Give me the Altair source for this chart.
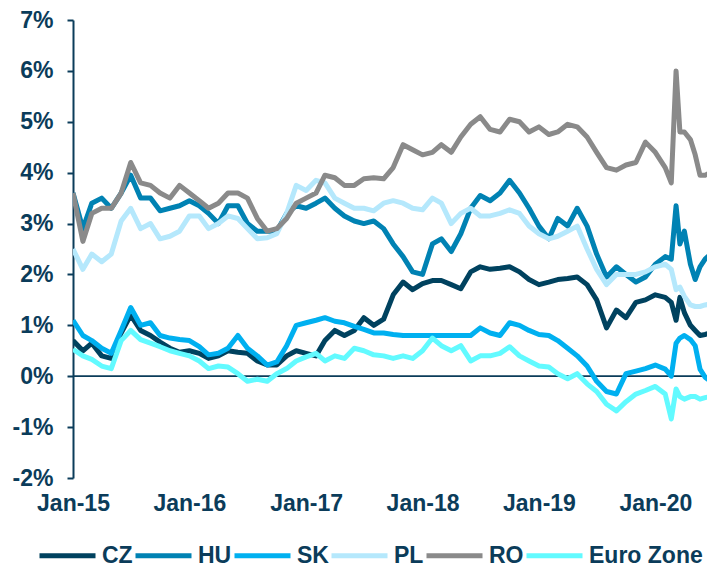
import altair as alt
import pandas as pd

# ---- data (values in %) ----
months = pd.date_range("2015-01-01", "2020-02-01", freq="MS").strftime("%Y-%m-%d").tolist()
extra_dates = ["2020-02-20", "2020-03-06", "2020-03-18", "2020-04-01", "2020-04-20",
               "2020-05-05", "2020-05-20", "2020-06-05", "2020-06-22"]
dates = months + extra_dates

series_names = ["CZ", "HU", "SK", "PL", "RO", "Euro Zone"]
series_colors = ["#00425F", "#0082B3", "#00B0F0", "#B5E8FC", "#8A8A8A", "#62FAFF"]
series_widths = [5, 5, 2.6, 3.2, 3.2, 3.2]

cz = [0.7, 0.5, 0.65, 0.4, 0.35, 0.85, 1.2, 0.9, 0.8, 0.67,
      0.55, 0.47, 0.5, 0.45, 0.35, 0.4, 0.5, 0.47, 0.45, 0.3,
      0.22, 0.22, 0.4, 0.5, 0.45, 0.4, 0.7, 0.9, 0.8, 0.9,
      1.15, 1.0, 1.12, 1.6, 1.85, 1.7, 1.82, 1.88, 1.88, 1.8,
      1.72, 2.05, 2.15, 2.1, 2.12, 2.15, 2.05, 1.9, 1.8, 1.85,
      1.9, 1.92, 1.95, 1.8, 1.5, 0.95, 1.3, 1.15, 1.45, 1.5,
      1.6, 1.55,
      1.45, 1.1, 1.55, 1.25, 1.0, 0.9, 0.8, 0.82, 0.85]
hu = [3.6, 2.9, 3.4, 3.5, 3.3, 3.6, 3.95, 3.5, 3.5, 3.25,
      3.3, 3.35, 3.45, 3.35, 3.2, 3.0, 3.35, 3.35, 3.0, 2.85,
      2.85, 2.85, 3.2, 3.35, 3.3, 3.4, 3.5, 3.3, 3.15, 3.05,
      3.0, 3.05, 2.9, 2.6, 2.35, 2.05, 2.0, 2.6, 2.7, 2.45,
      2.8, 3.3, 3.55, 3.45, 3.6, 3.85, 3.6, 3.3, 2.95, 2.7,
      3.1, 2.95, 3.3, 2.95, 2.4, 1.95, 2.15, 2.0, 1.85, 1.95,
      2.2, 2.35,
      2.3, 3.35, 2.6, 2.85, 2.2, 1.9, 2.15, 2.3, 2.4]
sk = [1.1, 0.8, 0.7, 0.55, 0.45, 0.9, 1.35, 1.0, 1.05, 0.8,
      0.75, 0.72, 0.7, 0.58, 0.42, 0.45, 0.55, 0.8, 0.55, 0.4,
      0.22, 0.28, 0.6, 1.0, 1.05, 1.1, 1.15, 1.08, 1.05, 0.98,
      0.92, 0.85, 0.85, 0.82, 0.8, 0.8, 0.8, 0.8, 0.8, 0.8,
      0.8, 0.8, 0.95, 0.85, 0.8, 1.05, 1.0, 0.9, 0.82, 0.8,
      0.7, 0.55, 0.4, 0.2, -0.1, -0.3, -0.35, 0.05, 0.1, 0.15,
      0.22, 0.14,
      0.0, 0.65, 0.75, 0.8, 0.72, 0.6, 0.14, -0.02, -0.1]
pl = [2.5, 2.1, 2.4, 2.25, 2.4, 3.05, 3.3, 2.9, 3.0, 2.7,
      2.75, 2.85, 3.15, 3.15, 2.9, 3.0, 3.15, 3.1, 2.9, 2.7,
      2.72, 2.8, 3.2, 3.75, 3.65, 3.85, 3.8, 3.5, 3.4, 3.3,
      3.3, 3.25, 3.4, 3.45, 3.4, 3.3, 3.27, 3.5, 3.4, 3.0,
      3.2, 3.3, 3.15, 3.15, 3.2, 3.27, 3.2, 2.95, 2.8, 2.7,
      2.75, 2.85, 2.95, 2.5, 2.1, 1.8, 2.0, 2.0, 2.0, 2.05,
      2.15, 2.2,
      2.1, 1.7, 1.75, 1.57, 1.4, 1.37, 1.37, 1.4, 1.42]
ro = [3.6, 2.65, 3.2, 3.3, 3.3, 3.6, 4.2, 3.8, 3.75, 3.6,
      3.5, 3.75, 3.6, 3.45, 3.3, 3.4, 3.6, 3.6, 3.5, 3.1,
      2.85, 2.9, 3.1, 3.4, 3.5, 3.6, 3.95, 3.9, 3.75, 3.75,
      3.88, 3.9, 3.88, 4.1, 4.55, 4.45, 4.35, 4.4, 4.55, 4.4,
      4.7, 4.95, 5.1, 4.85, 4.8, 5.05, 5.0, 4.8, 4.9, 4.75,
      4.8, 4.95, 4.9, 4.7, 4.4, 4.1, 4.05, 4.15, 4.2, 4.6,
      4.4, 4.1,
      3.8, 6.0, 4.8, 4.8, 4.65, 4.35, 3.95, 3.95, 4.0]
ez = [0.53, 0.4, 0.33, 0.2, 0.15, 0.7, 0.9, 0.72, 0.65, 0.58,
      0.5, 0.45, 0.4, 0.3, 0.15, 0.2, 0.18, 0.05, -0.1, -0.06,
      -0.1, 0.05, 0.15, 0.3, 0.38, 0.45, 0.3, 0.4, 0.35, 0.55,
      0.5, 0.42, 0.4, 0.35, 0.4, 0.35, 0.5, 0.75, 0.6, 0.5,
      0.6, 0.3, 0.4, 0.4, 0.45, 0.58, 0.4, 0.3, 0.2, 0.18,
      0.05, -0.05, 0.05, -0.15, -0.3, -0.55, -0.68, -0.5, -0.35, -0.28,
      -0.2, -0.35,
      -0.84, -0.25, -0.4, -0.45, -0.4, -0.4, -0.45, -0.42, -0.4]

y_ticks = [-2, -1, 0, 1, 2, 3, 4, 5, 6, 7]
x_tick_years = [2015, 2016, 2017, 2018, 2019, 2020]

values_by_series = [cz, hu, sk, pl, ro, ez]
rows = []
for name, vals in zip(series_names, values_by_series):
    for d, v in zip(dates, vals):
        rows.append({"date": d, "value": v, "series": name})
df = pd.DataFrame(rows)

NAVY = "#0B3C5A"
FONT = "Liberation Sans"

x_enc = alt.X(
    "date:T",
    scale=alt.Scale(type="utc",
                    domain=[alt.DateTime(year=2015, month=1, date=1, utc=True),
                            alt.DateTime(year=2020, month=6, date=11, utc=True)]),
    axis=alt.Axis(values=[alt.DateTime(year=y, month=1, date=1, utc=True) for y in x_tick_years],
                  labelExpr="utcFormat(datum.value, '%b-%y')", domain=False, ticks=False,
                  grid=False, labelPadding=14, labelFontSize=23, labelFont=FONT,
                  labelFontWeight="bold", labelColor=NAVY, title=None, labelFlush=False,
                  labelOverlap=False),
)
y_enc = alt.Y(
    "value:Q",
    scale=alt.Scale(domain=[-2, 7], nice=False, zero=False),
    axis=alt.Axis(values=y_ticks, labelExpr="datum.value + '%'", domain=True, domainColor=NAVY,
                  domainWidth=2, ticks=True, tickColor=NAVY, tickWidth=2, tickSize=6,
                  grid=False, labelPadding=14, labelFontSize=23, labelFont=FONT,
                  labelFontWeight="bold", labelColor=NAVY, title=None),
)

legend = alt.Legend(orient="none", legendX=-36, legendY=505,
                    direction="horizontal", columns=6, title=None,
                    symbolType="stroke", symbolSize=3136,
                    labelFontSize=23, labelFont=FONT, labelFontWeight="bold",
                    labelColor=NAVY, columnPadding=-9, labelOffset=4, padding=0)

lines = alt.Chart(df).mark_line(clip=True, strokeJoin="round").encode(
    x=x_enc,
    y=y_enc,
    color=alt.Color("series:N", sort=series_names,
                    scale=alt.Scale(domain=series_names, range=series_colors),
                    legend=legend),
    strokeWidth=alt.StrokeWidth("series:N", sort=series_names,
                                scale=alt.Scale(domain=series_names, range=series_widths),
                                legend=legend),
)

zero = alt.Chart(pd.DataFrame({"y": [0]})).mark_rule(color=NAVY, strokeWidth=1.8).encode(
    y=alt.Y("y:Q", scale=alt.Scale(domain=[-2, 7]))
)

chart = alt.layer(zero, lines).properties(
    width=634, height=458,
    padding={"left": 65, "top": 12, "right": 0, "bottom": 92},
    autosize=alt.AutoSizeParams(type="none"),
).configure_view(stroke=None)

chart.save("out.html", embed_options={"renderer": "svg", "actions": False})
